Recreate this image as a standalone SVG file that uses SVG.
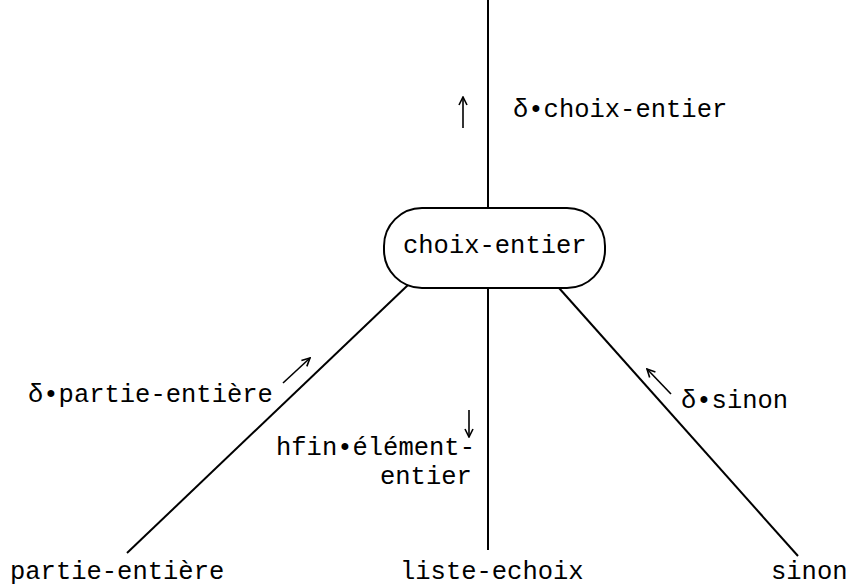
<svg xmlns="http://www.w3.org/2000/svg" width="849" height="588" viewBox="0 0 849 588">
<style>
.t{font-family:"Liberation Mono","DejaVu Sans Mono",monospace;font-size:25.5px;fill:#000}
.e{stroke:#000;stroke-width:2;fill:none}
.a{stroke:#000;stroke-width:1.6;fill:none;marker-end:url(#h)}
</style>
<defs>
<marker id="h" viewBox="0 0 10 10" refX="9" refY="5" markerWidth="10" markerHeight="10" markerUnits="userSpaceOnUse" orient="auto">
<path d="M1,1 L9,5 L1,9" fill="none" stroke="#000" stroke-width="1.6"/>
</marker>
</defs>
<rect width="849" height="588" fill="#fff"/>
<g id="connectors">
<line class="e" x1="488" y1="0" x2="488" y2="208"/>
<line class="e" x1="488" y1="288" x2="488" y2="550"/>
<line class="e" x1="408" y1="285" x2="127" y2="553"/>
<line class="e" x1="559" y1="288" x2="798" y2="556"/>
<line class="a" x1="463" y1="128" x2="463" y2="97"/>
<line class="a" x1="283" y1="383" x2="310" y2="358"/>
<line class="a" x1="469" y1="410" x2="469" y2="437"/>
<line class="a" x1="671" y1="394" x2="647" y2="369"/>
</g>
<g id="lbl-top"><text class="t" x="513" y="117">δ•choix-entier</text></g>
<g id="choix-entier">
<rect class="e" x="384" y="208" width="221" height="80" rx="38" ry="38" fill="#fff"/>
<text class="t" x="403" y="253">choix-entier</text>
</g>
<g id="lbl-partie"><text class="t" x="28" y="402">δ•partie-entière</text></g>
<g id="lbl-hfin">
<text class="t" x="276" y="455">hfin•élément-</text>
<text class="t" x="380" y="484">entier</text>
</g>
<g id="lbl-sinon"><text class="t" x="681" y="408">δ•sinon</text></g>
<g id="partie-entiere"><text class="t" x="10" y="579">partie-entière</text></g>
<g id="liste-echoix"><text class="t" x="400" y="579">liste-echoix</text></g>
<g id="sinon"><text class="t" x="771" y="579">sinon</text></g>
</svg>
